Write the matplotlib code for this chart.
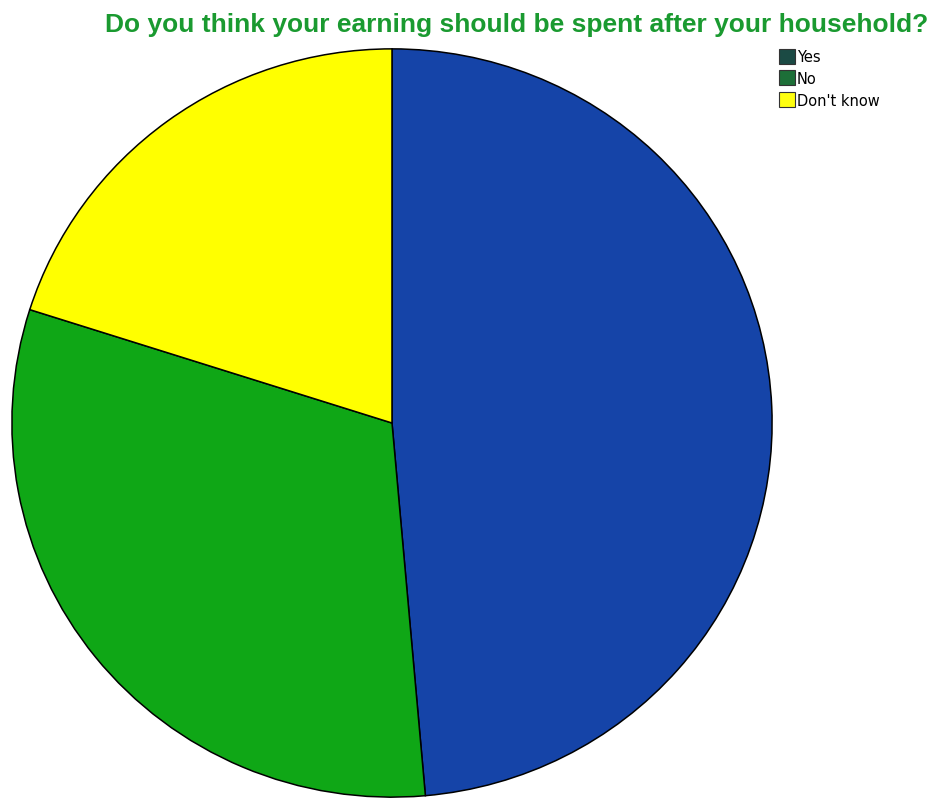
import matplotlib
matplotlib.use("Agg")
import matplotlib.pyplot as plt
from matplotlib.patches import Rectangle

# Survey answers (share of respondents, %)
answers = ["Yes", "No", "Don't know"]
shares = [48.6, 31.3, 20.1]
slice_colors = ["#1544a8", "#0fa716", "#ffff00"]
legend_colors = ["#1b4a44", "#1d6f38", "#ffff10"]

title = "Do you think your earning should be spent after your household?"

W, H = 935, 804
fig = plt.figure(figsize=(W / 100, H / 100), dpi=100)
fig.patch.set_facecolor("white")

# pie area in pixels: left, top, right, bottom
l, t, r, b = 10, 48, 774, 800
ax = fig.add_axes([l / W, (H - b) / H, (r - l) / W, (b - t) / H])
ax.pie(shares, colors=slice_colors, startangle=90, counterclock=False,
       radius=1.0, wedgeprops=dict(edgecolor="black", linewidth=1.1))
ax.set_xlim(-1.005, 1.005)
ax.set_ylim(-1.005, 1.005)
ax.set_aspect("auto")
ax.axis("off")

fig.text(517 / W, 1 - 25 / H, title, ha="center", va="center",
         fontsize=19, fontweight="bold", color="#1a9a30",
         family="Liberation Sans")

# legend: swatch boxes with labels, laid out in pixel units
sw_x, sw_w, sw_h = 779, 16, 15
row_tops = [50, 71, 93]
for label, color, top in zip(answers, legend_colors, row_tops):
    fig.add_artist(Rectangle((sw_x / W, 1 - (top + sw_h) / H), sw_w / W, sw_h / H,
                             facecolor=color, edgecolor="#333333", linewidth=0.8,
                             transform=fig.transFigure))
    fig.text((sw_x + sw_w + 2) / W, 1 - (top + sw_h / 2 + 0.5) / H, label,
             ha="left", va="center", fontsize=10.5, color="black",
             family="DejaVu Sans")

fig.savefig("out.png", dpi=100, facecolor="white")
